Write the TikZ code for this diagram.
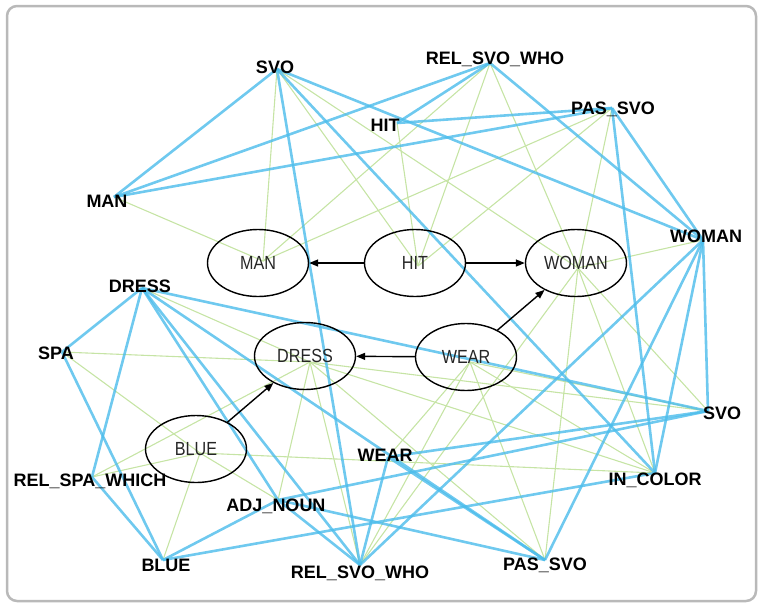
\documentclass[tikz,border=0pt]{standalone}
\usepackage{fontspec}
\setmainfont{Liberation Sans}
\newfontfamily\elfont[FakeStretch=0.85]{Liberation Sans}
\usetikzlibrary{arrows.meta,shapes.geometric}
\definecolor{eblue}{RGB}{75,188,235}
\definecolor{egreen}{RGB}{198,228,165}
\definecolor{framegray}{RGB}{185,185,185}
\begin{document}
\begin{tikzpicture}[x=1pt,y=-1pt,
  bl/.style={draw=eblue, line width=2.6pt, opacity=0.8},
  gr/.style={draw=egreen, line width=1.1pt},
  lab/.style={font=\fontsize{18}{18}\bfseries\selectfont, inner sep=0pt, text=black},
  ell/.style={ellipse, draw=black, line width=1.4pt, minimum width=101pt, minimum height=67pt, inner sep=0pt, font=\elfont\fontsize{19}{19}\selectfont, text=black!85},
  arr/.style={-{Triangle[length=9pt,width=7pt]}, line width=1.4pt}]
\useasboundingbox (0,0) rectangle (760,603);
\draw[framegray, line width=2.5pt, rounded corners=10pt] (7,6) rectangle (756,601);

% anchor points of labels
\coordinate (svoT) at (277,69);
\coordinate (relT) at (490,63);
\coordinate (pasT) at (612,108);
\coordinate (hitT) at (397,123);
\coordinate (manT) at (114,197);
\coordinate (womanT) at (703,240);
\coordinate (dressB) at (142,288);
\coordinate (spa) at (62,352);
\coordinate (rsw) at (92,477);
\coordinate (blueB) at (163,560);
\coordinate (adj) at (278,500);
\coordinate (relB) at (360,565);
\coordinate (pasB) at (545,560);
\coordinate (incolor) at (655,473);
\coordinate (svoB) at (708,411);
\coordinate (wearB) at (388,457);

% convergence points in ellipses
\coordinate (manG) at (263,261);
\coordinate (hitG) at (418,266);
\coordinate (womanG) at (578,268);
\coordinate (dressG) at (310,362);
\coordinate (wearG) at (470,362);
\coordinate (blueG) at (200,453);

% green links
\foreach \a/\b in {manT/manG, hitT/hitG, womanT/womanG,
  svoT/manG, svoT/hitG, svoT/womanG,
  relT/manG, relT/hitG, relT/womanG,
  pasT/manG, pasT/hitG, pasT/womanG,
  dressB/dressG, wearB/wearG, blueB/blueG,
  spa/dressG, spa/blueG, rsw/dressG, rsw/blueG, adj/dressG, adj/blueG,
  incolor/dressG, incolor/blueG, incolor/womanG, incolor/wearG,
  svoB/womanG, svoB/wearG, svoB/dressG,
  pasB/womanG, pasB/wearG, pasB/dressG,
  relB/womanG, relB/wearG, relB/dressG}
  \draw[gr] (\a) -- (\b);

% blue links
\foreach \a/\b in {svoT/manT, svoT/womanT, svoT/relB, svoT/incolor,
  manT/relT, manT/pasT,
  relT/hitT, pasT/hitT, relT/womanT, pasT/womanT, pasT/incolor,
  womanT/relB, womanT/pasB, womanT/incolor, womanT/svoB,
  dressB/spa, dressB/rsw, dressB/svoB, dressB/pasB, dressB/relB, dressB/adj,
  spa/blueB, rsw/blueB, blueB/adj, blueB/incolor,
  adj/svoB, adj/pasB, adj/relB,
  wearB/svoB, wearB/pasB, wearB/relB}
  \draw[bl] (\a) -- (\b);

% ellipses
\node[ell] (man) at (258,263) {MAN};
\node[ell] (hit) at (415,263) {HIT};
\node[ell] (woman) at (576,263) {WOMAN};
\node[ell] (dress) at (305,356) {DRESS};
\node[ell] (wear) at (466,357) {WEAR};
\node[ell] (blue) at (196,449) {BLUE};

\draw[arr] (hit) -- (man);
\draw[arr] (hit) -- (woman);
\draw[arr] (wear) -- (dress);
\draw[arr] (wear) -- (woman);
\draw[arr] (blue) -- (dress);

% labels
\node[lab] (svoTl) at (275,67) {SVO};
\node[lab] (relTl) at (495,59) {REL\_SVO\_WHO};
\node[lab] (pasTl) at (613,109) {PAS\_SVO};
\node[lab] (hitTl) at (385,125) {HIT};
\node[lab] (manTl) at (107,201) {MAN};
\node[lab] (womanTl) at (706,236) {WOMAN};
\node[lab] (dressBl) at (140,286) {DRESS};
\node[lab] (spal) at (56,353) {SPA};
\node[lab] (rswl) at (90,481) {REL\_SPA\_WHICH};
\node[lab] (blueBl) at (166,565) {BLUE};
\node[lab] (adjl) at (276,506) {ADJ\_NOUN};
\node[lab] (relBl) at (360,573) {REL\_SVO\_WHO};
\node[lab] (pasBl) at (545,565) {PAS\_SVO};
\node[lab] (incolorl) at (655,480) {IN\_COLOR};
\node[lab] (svoBl) at (722,413) {SVO};
\node[lab] (wearBl) at (385,455) {WEAR};
\end{tikzpicture}
\end{document}
